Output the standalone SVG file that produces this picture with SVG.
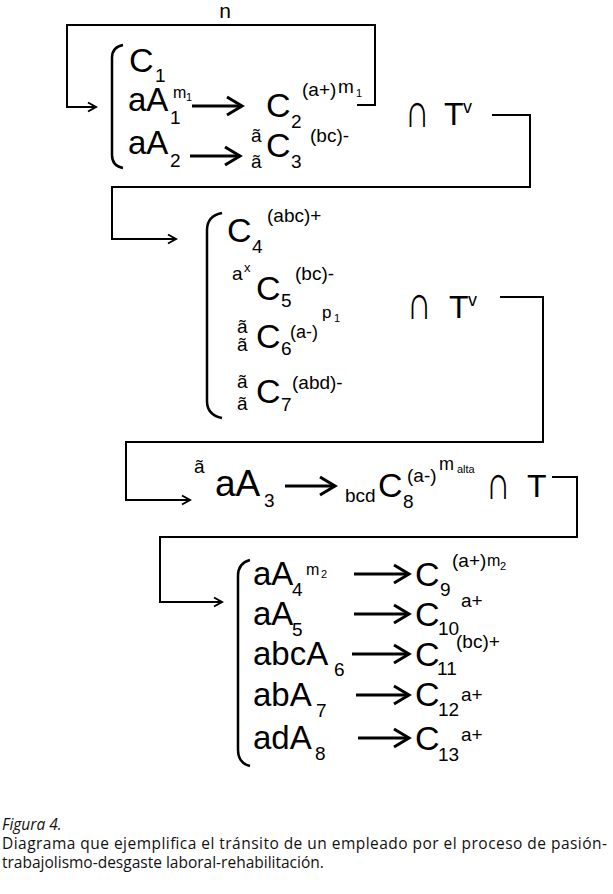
<svg xmlns="http://www.w3.org/2000/svg" width="613" height="894" viewBox="0 0 613 894">
<style>
text{font-family:"Liberation Sans",Arial,sans-serif;fill:#000}
.c{font-size:34px}
.r{font-size:33px}
.s{font-size:19px}
.t{font-size:11px}
.op{font-size:32px}
.cup{font-family:"DejaVu Sans",sans-serif;font-weight:200;font-size:40px}
.cap{font-family:"Open Sans","Noto Sans",sans-serif;font-size:15.5px;fill:#111}
.ln{fill:none;stroke:#000;stroke-width:2}
.ar{fill:none;stroke:#000;stroke-width:3}
.br{fill:none;stroke:#000;stroke-width:2.5}
</style>
<defs>
<marker id="sa" markerUnits="userSpaceOnUse" markerWidth="12" markerHeight="12" refX="10" refY="6" orient="auto" viewBox="0 0 12 12"><path d="M2,1.5 L10,6 L2,10.5" fill="none" stroke="#000" stroke-width="2"/></marker>
<marker id="ba" markerUnits="userSpaceOnUse" markerWidth="20" markerHeight="22" refX="17" refY="11" orient="auto" viewBox="0 0 20 22"><path d="M2,2 L17,11 L2,20" fill="none" stroke="#000" stroke-width="3"/></marker>
</defs>
<rect width="613" height="894" fill="#fff"/>
<g id="connectors">
<text x="225" y="18" text-anchor="middle" style="font-size:21px">n</text>
<path class="ln" d="M357,105 H375 V25 H67 V107 H96" marker-end="url(#sa)"/>
<path class="ln" d="M492,115 H530 V187 H112 V239 H176" marker-end="url(#sa)"/>
<path class="ln" d="M500,297 H543 V442 H126 V500 H190" marker-end="url(#sa)"/>
<path class="ln" d="M552,477 H577 V537 H160 V602 H222" marker-end="url(#sa)"/>
</g>
<g id="block1">
<path class="br" d="M123,45 Q112,47 112,58 V155 Q112,166 123,168"/>
<text class="c" x="129" y="72">C</text><text class="s" x="155" y="82">1</text>
<text class="r" x="128" y="111">aA</text><text class="s" x="170" y="124">1</text>
<text style="font-size:16px" x="173" y="98">m</text><text class="t" x="186" y="101">1</text>
<line class="ar" x1="192" y1="106" x2="242" y2="106" marker-end="url(#ba)"/>
<text class="c" x="266" y="117">C</text><text class="s" x="291" y="128">2</text>
<text class="s" x="302" y="96">(a+)</text><text class="s" x="338" y="93">m</text><text class="t" x="356" y="97">1</text>
<text class="r" x="128" y="154">aA</text><text class="s" x="170" y="167">2</text>
<line class="ar" x1="190" y1="156" x2="240" y2="156" marker-end="url(#ba)"/>
<text class="s" x="251" y="142">ã</text><text class="s" x="251" y="168">ã</text>
<text class="c" x="266" y="157">C</text><text class="s" x="291" y="168">3</text>
<text class="s" x="310" y="142">(bc)-</text>
<text class="cup" transform="translate(405,127) scale(0.85,1.2)">∩</text>
<text class="op" x="444" y="125">T</text><text style="font-size:18px" x="463" y="113">v</text>
</g>
<g id="block2">
<path class="br" d="M222,213 Q207,216 207,230 V401 Q207,415 222,418"/>
<text class="c" x="227" y="242">C</text><text class="s" x="252" y="253">4</text>
<text class="s" x="267" y="222">(abc)+</text>
<text class="s" x="232" y="280">a</text><text style="font-size:13px" x="244" y="272">x</text>
<text class="c" x="256" y="300">C</text><text class="s" x="281" y="307">5</text>
<text class="s" x="295" y="280">(bc)-</text>
<text class="s" x="237" y="333">ã</text><text class="s" x="237" y="351">ã</text>
<text class="c" x="256" y="348">C</text><text class="s" x="281" y="355">6</text>
<text style="font-size:18px" x="290" y="338">(a-)</text><text style="font-size:17px" x="322" y="318">p</text><text class="t" x="334" y="322">1</text>
<text class="s" x="237" y="388">ã</text><text class="s" x="237" y="410">ã</text>
<text class="c" x="256" y="403">C</text><text class="s" x="281" y="411">7</text>
<text class="s" x="292" y="389">(abd)-</text>
<text class="cup" transform="translate(407,319) scale(0.85,1.2)">∩</text>
<text class="op" x="449" y="318">T</text><text style="font-size:18px" x="468" y="306">v</text>
</g>
<g id="block3">
<text class="s" x="194" y="473">ã</text>
<text style="font-size:37px" x="215" y="496">aA</text><text class="s" x="264" y="507">3</text>
<line class="ar" x1="285" y1="486" x2="335" y2="486" marker-end="url(#ba)"/>
<text class="s" x="345" y="502">bcd</text>
<text class="c" x="378" y="497">C</text><text class="s" x="403" y="508">8</text>
<text class="s" x="407" y="482">(a-)</text><text style="font-size:18px" x="439" y="470">m</text><text class="t" x="457" y="473">alta</text>
<text class="cup" transform="translate(486,499) scale(0.85,1.2)">∩</text>
<text class="op" x="527" y="497">T</text>
</g>
<g id="block4">
<path class="br" d="M250,560 Q238,563 238,576 V750 Q238,763 250,766"/>
<text class="r" x="253" y="585">aA</text><text class="s" x="292" y="596">4</text>
<text style="font-size:16px" x="306" y="575">m</text><text class="t" x="321" y="578">2</text>
<text class="r" x="253" y="625">aA</text><text class="s" x="292" y="636">5</text>
<text class="r" x="253" y="665">abcA</text><text class="s" x="334" y="676">6</text>
<text class="r" x="253" y="706">abA</text><text class="s" x="316" y="717">7</text>
<text class="r" x="253" y="749">adA</text><text class="s" x="315" y="760">8</text>
<line class="ar" x1="354" y1="574" x2="409" y2="574" marker-end="url(#ba)"/>
<line class="ar" x1="354" y1="614" x2="409" y2="614" marker-end="url(#ba)"/>
<line class="ar" x1="352" y1="654" x2="409" y2="654" marker-end="url(#ba)"/>
<line class="ar" x1="356" y1="695" x2="409" y2="695" marker-end="url(#ba)"/>
<line class="ar" x1="358" y1="738" x2="409" y2="738" marker-end="url(#ba)"/>
<text class="c" x="415" y="586">C</text><text class="s" x="440" y="596">9</text>
<text class="s" x="452" y="567">(a+)</text><text style="font-size:16px" x="487" y="566">m</text><text class="t" x="500" y="570">2</text>
<text class="c" x="415" y="626">C</text><text class="s" x="438" y="635">10</text><text class="s" x="461" y="607">a+</text>
<text class="c" x="415" y="666">C</text><text class="s" x="437" y="675">11</text><text class="s" x="456" y="648">(bc)+</text>
<text class="c" x="415" y="706">C</text><text class="s" x="438" y="716">12</text><text class="s" x="461" y="701">a+</text>
<text class="c" x="415" y="750">C</text><text class="s" x="438" y="761">13</text><text class="s" x="461" y="741">a+</text>
</g>
<g id="caption">
<text class="cap" x="2" y="830" font-style="italic">Figura 4.</text>
<text class="cap" x="2" y="849" textLength="605" lengthAdjust="spacing">Diagrama que ejemplifica el tránsito de un empleado por el proceso de pasión-</text>
<text class="cap" x="2" y="868">trabajolismo-desgaste laboral-rehabilitación.</text>
</g>
</svg>
